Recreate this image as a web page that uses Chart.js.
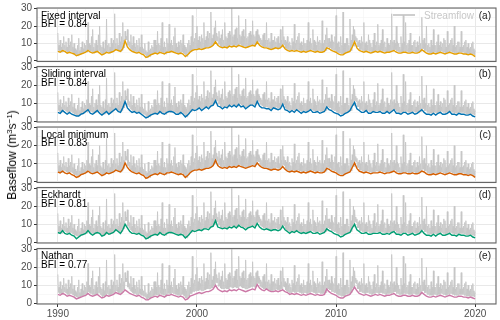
<!DOCTYPE html>
<html>
<head>
<meta charset="utf-8">
<script src="https://cdn.jsdelivr.net/npm/chart.js@4/dist/chart.umd.min.js"></script>
<style>
  body { margin: 0; background: #fff; font-family: "Liberation Sans", Arial, sans-serif; }
  #wrap { position: relative; width: 500px; height: 320px; overflow: hidden; }
  #wrap canvas { position: absolute; left: 0; top: 0; }
  #ytitle {
    position: absolute; left: 12px; top: 155px; white-space: nowrap;
    transform: translate(-50%, -50%) rotate(-90deg);
    font-size: 12px; color: #000; line-height: 14px;
  }
  #ytitle sup { font-size: 8px; vertical-align: 4px; line-height: 0; }
</style>
</head>
<body>
<div id="wrap">
  <canvas id="p0" width="500" height="320"></canvas>
  <canvas id="p1" width="500" height="320"></canvas>
  <canvas id="p2" width="500" height="320"></canvas>
  <canvas id="p3" width="500" height="320"></canvas>
  <canvas id="p4" width="500" height="320"></canvas>
  <div id="ytitle">Baseflow (m<sup>3</sup>s<sup>−1</sup>)</div>
</div>
<script>
// streamflow, twice a month from Jan 1990 (m3/s)
const streamflow = [
  16,6, 9,5.5, 12,5.5, 8,5, 10,5.5, 14,6.5, 9,6, 11,5.5, 8,5, 13,5, 9,5.5, 11,5.5,            // 1990
  15,5, 8,4.5, 10,4, 7,4, 6,3.5, 9,3, 13,3.5, 6,3.5, 8,4, 11,4, 7,4.5, 10,5,                  // 1991
  9,5.5, 12,5, 22,6.5, 10,6, 9,5.5, 14,5, 18,5, 8,4.5, 10,5, 12,5, 9,5.5, 15,6,               // 1992
  20,5, 9,4.5, 8,3.5, 11,4, 7,4, 12,4.5, 24,5.5, 9,5, 10,4.5, 8,4.5, 13,5, 10,5.5,            // 1993
  12,6, 27,6.5, 10,7, 13,6.5, 9,6, 16,6, 11,5.5, 14,6, 22,7.5, 12,7.5, 17,12, 14,12,          // 1994
  18,9, 12,8, 11,7, 15,6.5, 9,6, 14,5.5, 10,5.5, 8,5, 12,4.5, 9,5, 13,5.5, 8,5,               // 1995
  15,4.5, 8,4, 7,4, 10,3.5, 6,2.5, 5,2, 11,3, 6,2.5, 7,3.5, 9,4, 8,4, 12,4.5,                 // 1996
  12,5, 9,4.5, 17,4.5, 10,4.5, 9,5.5, 13,5, 22,5, 8,4.5, 11,4.5, 8,4, 13,5.5, 10,5.5,         // 1997
  21,5.5, 10,5, 12,6, 9,5.5, 14,5.5, 19,5, 10,5, 8,4.5, 11,4.5, 9,4, 12,5, 10,5,              // 1998
  15,4.5, 9,4, 8,3, 7,2.5, 10,4, 12,4, 9,5.5, 14,5.5, 26,6.5, 11,6.5, 13,7, 16,7,             // 1999
  20,7, 12,7, 14,7.5, 11,7, 15,7, 13,7, 22,7.5, 12,7.5, 14,8, 17,8, 13,8, 16,8,               // 2000
  28,8.5, 13,8.5, 15,9.5, 19,10, 23,11.5, 16,11.5, 14,9.5, 17,9.5, 13,8.5, 15,8, 18,8, 12,8,  // 2001
  22,8.5, 14,8, 13,8, 16,8, 17,9, 15,9, 30,8.5, 14,8.5, 15,9, 18,9, 19,8.5, 13,8.5,           // 2002
  26,9.5, 15,9.5, 14,9, 17,8.5, 18,8.5, 14,8, 24,8, 13,8, 14,8.5, 16,8.5, 17,9, 15,9,         // 2003
  23,9.5, 15,9, 14,9, 17,9.5, 18,11.5, 15,11, 14,9.5, 13,9, 12,8.5, 15,8, 16,8, 12,8,         // 2004
  22,8, 12,7.5, 13,7.5, 11,7, 16,7, 12,7, 12,7.5, 14,7.5, 11,8, 13,7.5, 14,7.5, 10,7.5,       // 2005
  18,8, 12,8, 20,9.5, 14,9, 12,7.5, 11,7, 14,6.5, 10,6, 11,6, 9,6, 13,6.5, 11,6.5,            // 2006
  21,6, 10,6, 12,6.5, 14,6.5, 16,6, 10,6, 11,5.5, 9,5.5, 13,6, 10,6, 10,5.5, 12,5.5,          // 2007
  22,6, 11,6, 13,6.5, 10,6.5, 18,6, 12,6, 11,5.5, 9,5.5, 14,6, 11,6, 12,5.5, 10,5.5,          // 2008
  23,5.5, 10,5.5, 12,6, 15,6, 19,8, 13,8, 13,7.5, 11,7.5, 15,6.5, 12,6.5, 11,6, 14,6,         // 2009
  26,5.5, 10,5, 11,4.5, 8,4.5, 14,4, 9,4, 28,4, 10,4, 10,5, 13,5, 13,5.5, 9,5.5,              // 2010
  24,6, 12,6, 15,8.5, 20,8.5, 18,11.5, 14,11, 13,8, 11,8, 12,6.5, 10,6.5, 14,6, 11,6,         // 2011
  22,5.5, 10,5.5, 11,6, 9,6, 15,5.5, 12,5.5, 10,5, 8,5, 12,5.5, 16,5.5, 9,6, 11,6,            // 2012
  21,5.5, 9,5.5, 10,6, 12,6, 18,5.5, 10,5.5, 11,5, 8,5, 13,5.5, 10,5.5, 9,5.5, 12,5.5,        // 2013
  27,6, 11,6, 12,6.5, 10,6.5, 20,5.5, 11,5.5, 10,5, 8,5, 14,5, 10,5, 26,5.5, 11,5.5,          // 2014
  22,5.5, 9,5.5, 10,5, 12,5, 16,5, 9,5, 9,5.5, 11,5.5, 12,5, 8,5, 11,5, 9,5,                  // 2015
  14,5.5, 10,5.5, 25,7, 12,7, 13,6, 10,6, 20,5, 9,5, 10,4.5, 8,4.5, 12,4.5, 9,4.5,            // 2016
  18,5, 9,5, 9,4.5, 11,4.5, 15,5, 9,5, 11,5.5, 8,5.5, 10,5, 13,5, 12,4.5, 8,4.5,              // 2017
  17,5, 9,5, 10,5.5, 12,5.5, 13,5, 9,5, 20,4.5, 8,4.5, 9,4.5, 11,4.5, 11,5, 8,5,              // 2018
  17,5, 8,5, 9,4.5, 11,4.5, 12,4, 8,4, 10,4, 7,4, 8,4, 10,4, 11,4, 7,3.5,                     // 2019
  6                                                                                          // 2020
];

// baseflow, every two months from Jan 1990
const fixedInterval = [
  5.5,5,6,5.5,4.5,5,  4.5,4,3,3.5,4,4.5,  5,6,5,4.5,5,5.5,  4.5,3.5,4,5,4.5,5,  5.5,6.5,6,5.5,7,11.5,
  8,6.5,5.5,5,4.5,5,  4,3.5,2,2.5,3.5,4,  4.5,4,5,4.5,4,5,  5,5.5,5,4.5,4,4.5,  4,2.5,3.5,5,6,6.5,
  6.5,7,6.5,7,7.5,7.5,  8,9,11,9,8,7.5,  8,7.5,8.5,8,8.5,8,  9,8.5,8,7.5,8,8.5,  9,8.5,11,9,8,7.5,
  7.5,7,6.5,7,7.5,7,  7.5,9,7,6,5.5,6,  5.5,6,5.5,5,5.5,5,  5.5,6,5.5,5,5.5,5,  5,5.5,7.5,7,6,5.5,
  5,4,3.5,3.5,4.5,5,  5.5,8,11,7.5,6,5.5,  5,5.5,5,4.5,5,5.5,  5,5.5,5,4.5,5,5,  5.5,6,5,4.5,4.5,5,
  5,4.5,4.5,5,4.5,4.5,  5,6.5,5.5,4.5,4,4,  4.5,4,4.5,5,4.5,4,  4.5,5,4.5,4,4,4.5,  4.5,4,4,3.5,4,3.5,
  2.5
];
const slidingInterval = [
  5,4.5,6,5,4,5,  4,3.5,3,3,4,4.5,  5.5,6.5,4.5,4,5,6,  4.5,3.5,4.5,5.5,4,5,  6,7,5.5,5,7.5,11,
  7.5,6,5,5.5,4.5,5,  4,3,2,2.5,3.5,4,  4.5,4,5.5,4.5,4,5,  5.5,5.5,5,4,4,5,  4,2.5,3.5,5,6.5,6,
  6.5,7.5,6,7,8,7,  8.5,9,11.5,8.5,8,7,  8,7.5,9,8,9,8,  9.5,8,8.5,7,8,9,  9,8,11,8.5,7.5,7.5,
  7,7,6,7.5,7,6.5,  7,9.5,6.5,6,5,6,  5,6.5,5.5,4.5,5.5,5,  5.5,6.5,5,5,5.5,4.5,  5,5.5,8,6.5,6,5,
  4.5,4,3,3.5,4.5,5,  6,8.5,10.5,7,6,5,  5,6,4.5,4.5,5.5,5,  5,5.5,4.5,4.5,5.5,4.5,  5.5,6.5,4.5,4.5,4,5,
  5,4,4.5,5,4,4.5,  5.5,6.5,5,4,4,3.5,  4.5,3.5,4.5,5,4,4,  4.5,5.5,4,4,3.5,4.5,  4,4,3.5,3.5,4,3,
  2.5
];
const localMinimum = [
  5.5,5,6,5,4.5,5,  4,3.5,2.5,3,4,4.5,  5,6,5,4.5,5,5.5,  4.5,3.5,4,5,4.5,5,  5.5,6.5,6,5.5,7,10.5,
  8,6.5,5.5,5,4.5,5,  4,3.5,2,2.5,3.5,4,  4.5,4,5,4.5,4,5,  5,5.5,5,4.5,4,4.5,  4,2.5,3.5,5,6,6.5,
  6.5,7,6.5,7,7.5,7.5,  8,9,12,9,8,7.5,  8,7.5,8.5,8,8.5,8,  9,8.5,8,7.5,8,8.5,  9,8.5,10.5,9,8,7.5,
  7.5,7,6.5,7,7,6.5,  7,8.5,7,6,5.5,6,  5.5,6,5.5,5,5.5,5,  5.5,6,5.5,5,5.5,5,  5,5.5,7.5,7,6,5.5,
  5,4,3.5,3.5,4.5,5,  5.5,8,10.5,7.5,6,5.5,  5,5.5,5,4.5,5,5,  5,5.5,5,4.5,5,5,  5.5,6,5,4.5,4.5,5,
  5,4.5,4.5,5,4.5,4.5,  5,6,5.5,4.5,4,4,  4.5,4,4.5,5,4.5,4,  4.5,5,4.5,4,4,4.5,  4.5,4,4,3.5,4,3.5,
  2.5
];
const eckhardt = [
  5.5,5,6.5,5,4.5,5,  4,3.5,2,3,4,4.5,  5,6.5,5,4,5,5.5,  5,3.5,4,5.5,4.5,5,  5.5,7,6,5,7,10,
  8,6,5,5,4.5,5,  4,3.5,2,2.5,3.5,4,  4.5,4,5.5,4.5,4,5,  5.5,5.5,5,4.5,4,4.5,  4,2.5,3.5,5,6.5,6,
  6.5,7,6.5,7.5,7.5,7,  8.5,9,12,8.5,8,7.5,  8,7.5,8.5,8,9,8,  9.5,8.5,8,7,8,8.5,  9,8,10.5,8.5,7.5,7,
  7.5,7,6.5,7,7,6.5,  7,9,7,6,5,6,  5.5,6.5,5.5,5,5.5,5,  5.5,6,5,5,5.5,4.5,  5,5.5,7.5,6.5,6,5,
  4.5,4,3,3.5,4.5,5,  5.5,8,10,7,6,5,  5,5.5,4.5,4.5,5,5,  5,5.5,4.5,4.5,5,4.5,  5.5,6,4.5,4.5,4,5,
  5,4,4.5,5,4,4.5,  5,6.5,5,4,4,3.5,  4.5,3.5,4.5,5,4,4,  4.5,5,4,4,3.5,4.5,  4,4,3.5,3.5,4,3,
  2.5
];
const nathan = [
  5,4.5,5.5,5,4,4.5,  4,3.5,2.5,3,3.5,4,  4.5,5.5,4.5,4,4.5,5,  4,3,3.5,4.5,4,4.5,  5,6,5.5,5,6,7.5,
  6.5,5.5,5,4.5,4,4.5,  3.5,3,2,2,3,3.5,  4,3.5,4.5,4,3.5,4.5,  4.5,5,4.5,4,3.5,4,  3.5,2,2.5,4,4.5,5,
  5.5,6,5.5,6,6.5,6.5,  7,8,10,8,7,6.5,  7,6.5,7.5,7,7.5,7,  8,7.5,7,6.5,7,7.5,  8,7.5,10.5,8.5,7.5,7,
  8,7,6.5,6.5,7,6.5,  7,7.5,6.5,6,5,5.5,  5,5.5,5,4.5,5,4.5,  5,5.5,5,4.5,5,4.5,  4.5,5,8,6.5,5.5,5,
  4.5,3.5,3,3,4,4.5,  5,7,9,7,5.5,5,  4.5,5,4.5,4,4.5,5,  4.5,5,4.5,4,4.5,4.5,  5,5.5,4.5,4,4,4.5,
  4.5,4,4,4.5,4,4,  4.5,6,5,4,3.5,3.5,  4,3.5,4,4.5,4,3.5,  4,4.5,4,3.5,3.5,4,  4,3.5,3.5,3,3.5,3,
  2.5
];

const methods = ['Fixed interval', 'Sliding interval', 'Local minimum', 'Eckhardt', 'Nathan'];
const bfiValues = ['0.84', '0.84', '0.83', '0.81', '0.77'];
const panelTags = ['(a)', '(b)', '(c)', '(d)', '(e)'];
const baseflows = [fixedInterval, slidingInterval, localMinimum, eckhardt, nathan];
const colors = ['#E69F00', '#0072B2', '#D55E00', '#009E73', '#CC79A7'];
const yTicks = [0, 5, 10, 15, 20, 25, 30];
const xTicks = [1990, 1992, 1994, 1996, 1998, 2000, 2002, 2004, 2006, 2008, 2010, 2012, 2014, 2016, 2018, 2020];

const panelTop = [6, 66.5, 127, 187.5, 248.5];
const panelH = 55.5;

Chart.defaults.font.family = "'Liberation Sans', Arial, sans-serif";
Chart.defaults.font.size = 10;
Chart.defaults.color = '#4d4d4d';

function toPoints(values, perYear) {
  return values.map((v, i) => ({ x: 1990 + i / perYear, y: v }));
}

const panelDecor = {
  id: 'panelDecor',
  afterDraw(chart, args, opts) {
    const { ctx, chartArea: a } = chart;
    ctx.save();
    ctx.strokeStyle = '#666';
    ctx.lineWidth = 1.1;
    ctx.strokeRect(a.left, a.top, a.right - a.left, a.bottom - a.top);
    ctx.fillStyle = '#000';
    ctx.font = "10px 'Liberation Sans', Arial, sans-serif";
    ctx.textBaseline = 'alphabetic';
    ctx.textAlign = 'left';
    ctx.fillText(methods[opts.idx], a.left + 4, a.top + 10.5);
    ctx.fillText('BFI = ' + bfiValues[opts.idx], a.left + 4, a.top + 19);
    ctx.textAlign = 'right';
    ctx.fillStyle = '#1a1a1a';
    ctx.fillText(panelTags[opts.idx], a.right - 5, a.top + 10.5);
    if (opts.idx === 0) {
      // streamflow key
      ctx.strokeStyle = '#bebebe';
      ctx.lineWidth = 1.5;
      ctx.beginPath();
      ctx.moveTo(393, a.top + 7);
      ctx.lineTo(415, a.top + 7);
      ctx.stroke();
      ctx.textAlign = 'left';
      ctx.fillStyle = '#c8c8c8';
      ctx.fillText('Streamflow', 424, a.top + 10.5);
    }
    ctx.restore();
  }
};

function makePanel(idx) {
  const last = idx === 4;
  const top = panelTop[idx];
  const xAxisH = last ? 14 : 0;
  const bottomPad = 320 - (top + panelH) - xAxisH;
  new Chart(document.getElementById('p' + idx), {
    type: 'line',
    data: {
      datasets: [
        { data: toPoints(baseflows[idx], 6), borderColor: colors[idx], borderWidth: 1.4, pointRadius: 0, tension: 0 },
        { data: toPoints(streamflow, 24), borderColor: '#c6c6c6', borderWidth: 0.9, pointRadius: 0, tension: 0 }
      ]
    },
    options: {
      responsive: false,
      animation: false,
      devicePixelRatio: 1,
      events: [],
      layout: { autoPadding: false, padding: { left: 0, right: 4, top: top, bottom: bottomPad } },
      plugins: { legend: { display: false }, tooltip: { enabled: false }, panelDecor: { idx: idx } },
      scales: {
        x: {
          type: 'linear', min: 1988.5, max: 2021.5,
          afterBuildTicks: s => { s.ticks = xTicks.map(v => ({ value: v })); },
          afterFit: s => { s.height = xAxisH; },
          border: { display: false },
          grid: {
            drawTicks: last,
            tickLength: 3,
            color: c => (c.tick && c.tick.value % 10 === 0) ? '#e8e8e8' : '#f3f3f3',
            lineWidth: c => (c.tick && c.tick.value % 10 === 0) ? 1 : 0.6,
            tickColor: c => (c.tick && c.tick.value % 10 === 0) ? '#333' : 'rgba(0,0,0,0)'
          },
          ticks: {
            display: last, padding: 1, maxRotation: 0, autoSkip: false,
            callback: v => v % 10 === 0 ? String(v) : ''
          }
        },
        y: {
          min: -0.3, max: 30.3,
          afterBuildTicks: s => { s.ticks = yTicks.map(v => ({ value: v })); },
          afterFit: s => { s.width = 37; },
          border: { display: false },
          grid: {
            tickLength: 3,
            color: c => (c.tick && c.tick.value % 10 === 0) ? '#e8e8e8' : '#f3f3f3',
            lineWidth: c => (c.tick && c.tick.value % 10 === 0) ? 1 : 0.6,
            tickColor: c => (c.tick && c.tick.value % 10 === 0) ? '#333' : 'rgba(0,0,0,0)'
          },
          ticks: {
            padding: 2, autoSkip: false,
            callback: v => v % 10 === 0 ? String(v) : ''
          }
        }
      }
    },
    plugins: [panelDecor]
  });
}

for (let i = 0; i < 5; i++) makePanel(i);
</script>
</body>
</html>
